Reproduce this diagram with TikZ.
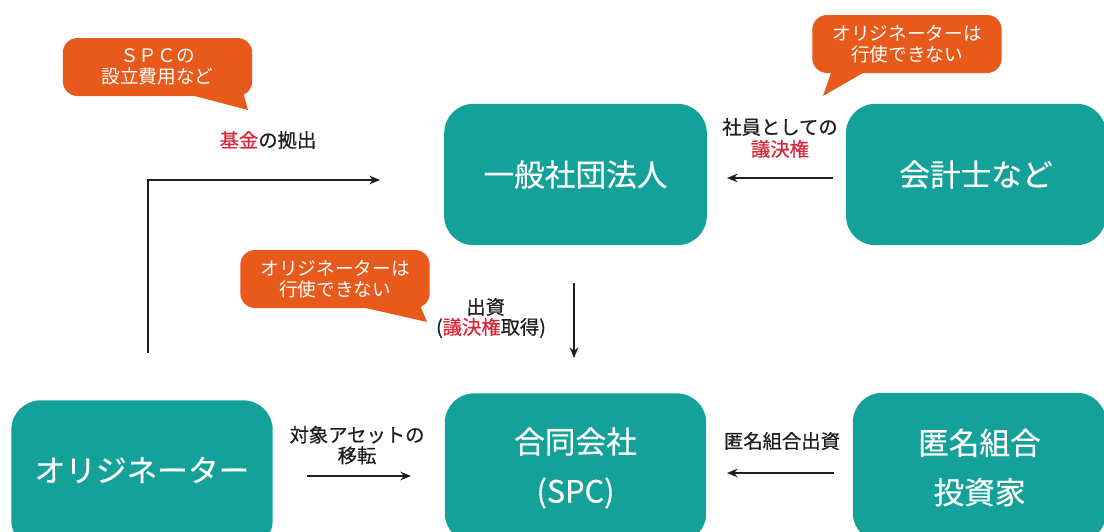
\documentclass[tikz,border=0pt]{standalone}
\usepackage{fontspec}
\setmainfont{Noto Sans CJK JP}
\newfontfamily\medfont[FakeBold=0.6]{Noto Sans CJK JP}
\newfontfamily\boxfont[FakeBold=0.4]{Noto Sans CJK JP}
\usetikzlibrary{arrows.meta}
\definecolor{teal1}{HTML}{14A199}
\definecolor{orange1}{HTML}{E85A1C}
\definecolor{red1}{HTML}{D62839}
\definecolor{ink}{HTML}{1E1E1E}
\begin{document}
\begin{tikzpicture}[x=0.75pt,y=-0.75pt,
  box/.style={fill=teal1, rounded corners=22pt, text=white, align=center, inner sep=0pt,
    font=\boxfont\fontsize{23}{37}\selectfont},
  callout/.style={fill=orange1, rounded corners=11pt, text=white, align=center, inner sep=0pt,
    minimum width=142pt, minimum height=43.5pt, font=\fontsize{14}{16}\selectfont},
  lbl/.style={text=ink, align=center, inner sep=0pt, font=\medfont\fontsize{14.5}{16}\selectfont},
  arr/.style={draw=ink, line width=1.1pt, -{Stealth[length=8pt,width=6.5pt]}}]
\useasboundingbox (0,0) rectangle (1104,532);
\clip (0,0) rectangle (1104,532);

% boxes
\node[box, minimum width=197pt, minimum height=106pt] (ippan) at (575.5,174.5) {一般社団法人};
\node[box, minimum width=195pt, minimum height=106pt] (kaikei) at (976,174.5) {会計士など};
\node[box, minimum width=196pt, minimum height=112pt] (godo) at (575.5,468) {合同会社\\(SPC)};
\node[box, minimum width=196pt, minimum height=112pt] (orig) at (142,475) {};
\node[font=\boxfont\fontsize{23}{37}\selectfont, text=white, inner sep=0pt] (origt) at (142,470) {オリジネーター};
\node[box, minimum width=190pt, minimum height=112pt] (tokumei) at (979.5,467.5) {匿名組合\\投資家};

% callouts
\fill[orange1] (187,94) -- (248,110) -- (243,92) -- cycle;
\node[callout] (c1) at (157.5,67) {ＳＰＣの\\設立費用など};
\fill[orange1] (832,70) -- (823,96) -- (868,70) -- cycle;
\node[callout] (c2) at (907,44) {オリジネーターは\\行使できない};
\fill[orange1] (357,306) -- (427,322) -- (417,298) -- cycle;
\node[callout] (c3) at (335,279) {オリジネーターは\\行使できない};

% labels
\node[lbl] (lkikin) at (268,140) {{\color{red1}基金}の拠出};
\node[lbl, font=\medfont\fontsize{14.5}{16.5}\selectfont] (lshain) at (780,138) {社員としての\\{\color{red1}議決権}};
\node[lbl, font=\medfont\fontsize{14.5}{15}\selectfont] (lshusshi) at (491,318) {\hspace*{-8pt}出資\\(\textcolor{red1}{議決権}取得)};
\node[lbl, font=\medfont\fontsize{14.5}{15.5}\selectfont] (ltaisho) at (357,445) {対象アセットの\\移転};
\node[lbl] (ltokumei) at (782,441) {匿名組合出資};

% arrows
\coordinate (k0) at (148,353);
\coordinate (k1) at (380,180);
\draw[arr] (k0) |- (k1);
\coordinate (s0) at (833,178);
\coordinate (s1) at (727,178);
\draw[arr] (s0) -- (s1);
\coordinate (d0) at (574,283);
\coordinate (d1) at (574,358);
\draw[arr] (d0) -- (d1);
\coordinate (t0) at (307,476);
\coordinate (t1) at (411,476);
\draw[arr] (t0) -- (t1);
\coordinate (m0) at (834,473);
\coordinate (m1) at (727,473);
\draw[arr] (m0) -- (m1);
\end{tikzpicture}
\end{document}
